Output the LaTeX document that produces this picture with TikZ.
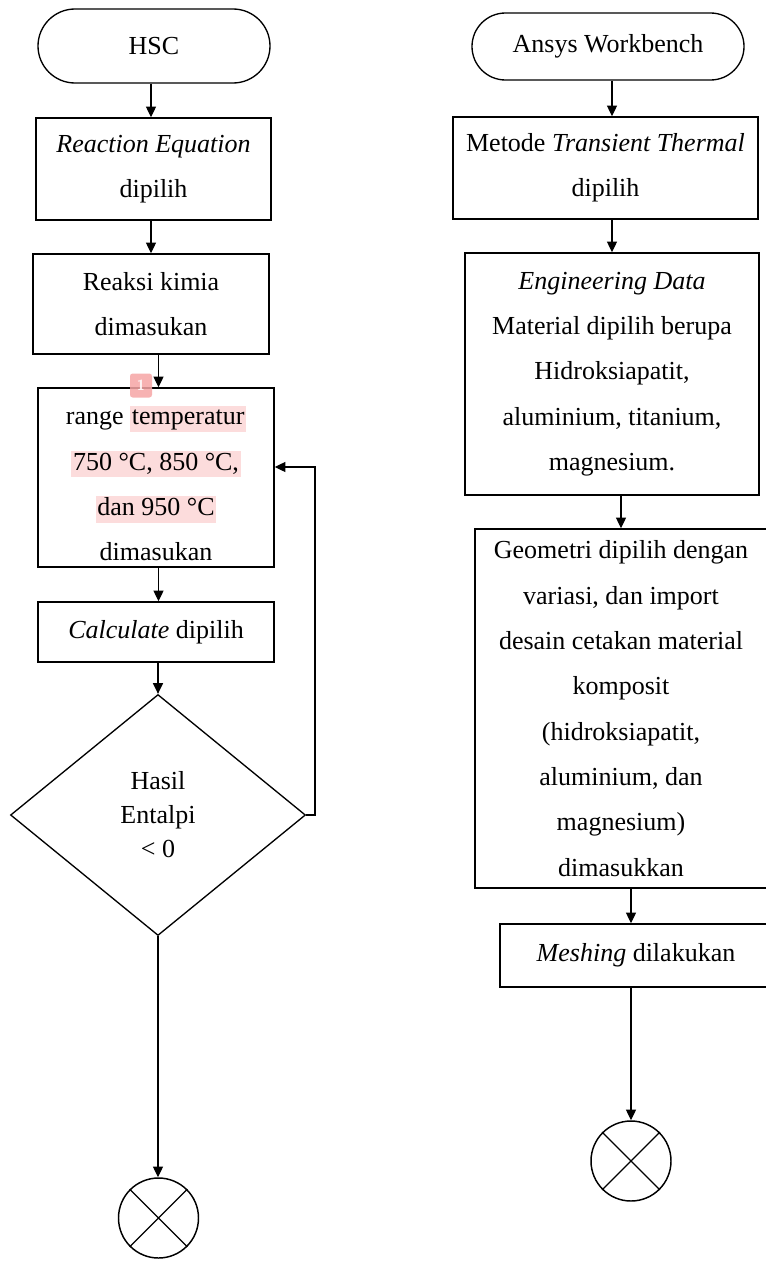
\documentclass[tikz,border=0pt]{standalone}
\usepackage{fontspec}
\setmainfont{Liberation Serif}
\usetikzlibrary{arrows.meta,shapes.geometric,shapes.misc}
\definecolor{hlpink}{HTML}{FCDCDC}
\definecolor{badge}{HTML}{F6A5A5}
\newcommand{\fs}{\fontsize{19.5}{34}\selectfont}
\newcommand{\fsd}{\fontsize{19.5}{25.5}\selectfont}
\newcommand{\hlt}[1]{{\setlength{\fboxsep}{1.2pt}\colorbox{hlpink}{\vphantom{Ap}#1}}}
\tikzset{
  box/.style={draw, line width=1.1pt, rectangle, align=center, inner sep=0pt, font=\fs},
  term/.style={draw, line width=1pt, rounded rectangle, align=center, inner sep=0pt, font=\fs},
  dec/.style={draw, line width=1pt, diamond, align=center, inner sep=0pt, font=\fsd},
  endc/.style={draw, line width=1.1pt, circle, inner sep=0pt, minimum size={80*0.75pt}},
  arr/.style={-{Triangle[width=7.5pt,length=8pt]}, line width=0.9pt},
  ln/.style={line width=1pt},
}
\begin{document}
\begin{tikzpicture}[x=0.75pt,y=-0.75pt]
\useasboundingbox (0,0) rectangle (765,1263);
% left column
\node[term, minimum width={232*0.75pt}, minimum height={74*0.75pt}] (hsc) at (154,46) {HSC};
\node[box, minimum width={235*0.75pt}, minimum height={102*0.75pt}] (r1) at (153.5,169) {\textit{Reaction Equation}\\dipilih};
\node[box, minimum width={236*0.75pt}, minimum height={100*0.75pt}] (r2) at (151,304) {Reaksi kimia\\dimasukan};
\node[box, minimum width={236*0.75pt}, minimum height={179*0.75pt}] (r3) at (156,477.5) {\rule{0pt}{23pt}range \hlt{temperatur}\\\hlt{750 °C, 850 °C,}\\\hlt{dan 950 °C}\\dimasukan};
\node[box, minimum width={236*0.75pt}, minimum height={60*0.75pt}] (r4) at (156,632) {\textit{Calculate} dipilih};
\node[dec, minimum width={295*0.75pt}, minimum height={241*0.75pt}] (dia) at (158,815) {Hasil\\Entalpi\\< 0};
\node[endc] (c1) at (158.5,1218) {};
\draw[ln] (c1.north west) -- (c1.south east) (c1.north east) -- (c1.south west);
\node[rectangle, rounded corners=2pt, fill=badge, fill opacity=0.85, text=white, minimum width={22*0.75pt}, minimum height={24*0.75pt}, inner sep=0pt, font=\fontsize{11}{12}\selectfont\sffamily\bfseries] (bd) at (141,385.5) {1};
\coordinate (fb) at (315,467);
\draw[arr] (hsc.south -| r2) -- (r1.north -| r2);
\draw[arr] (r1.south -| r2) -- (r2.north);
\draw[arr] (r2.south -| c1) -- (r3.north -| c1);
\draw[arr] (r3.south -| c1) -- (r4.north -| c1);
\draw[arr] (r4.south -| dia) -- (dia.north);
\draw[arr] (dia.south) -- (dia.south |- c1.north);
\draw[arr] (dia.east) -| (fb) -- (fb -| r3.east);
% right column
\node[term, minimum width={272*0.75pt}, minimum height={67*0.75pt}] (ansys) at (608,46.5) {Ansys Workbench};
\node[box, minimum width={305*0.75pt}, minimum height={102*0.75pt}] (m1) at (605.5,168) {Metode \textit{Transient Thermal}\\dipilih};
\node[box, minimum width={294*0.75pt}, minimum height={242*0.75pt}] (m2) at (612,374) {\textit{Engineering Data}\\Material dipilih berupa\\Hidroksiapatit,\\aluminium, titanium,\\magnesium.};
\node[box, minimum width={292*0.75pt}, minimum height={359*0.75pt}] (m3) at (621,708.5) {Geometri dipilih dengan\\variasi, dan import\\desain cetakan material\\komposit\\(hidroksiapatit,\\aluminium, dan\\magnesium)\\dimasukkan};
\node[box, minimum width={272*0.75pt}, minimum height={63*0.75pt}] (m4) at (636,955.5) {\textit{Meshing} dilakukan};
\node[endc] (c2) at (631,1161) {};
\draw[ln] (c2.north west) -- (c2.south east) (c2.north east) -- (c2.south west);
\draw[arr] (ansys.south -| m2) -- (m1.north -| m2);
\draw[arr] (m1.south -| m2) -- (m2.north);
\draw[arr] (m2.south -| m3) -- (m3.north);
\draw[arr] (m3.south -| c2) -- (m4.north -| c2);
\draw[arr] (m4.south -| c2) -- (c2.north);
\end{tikzpicture}
\end{document}
